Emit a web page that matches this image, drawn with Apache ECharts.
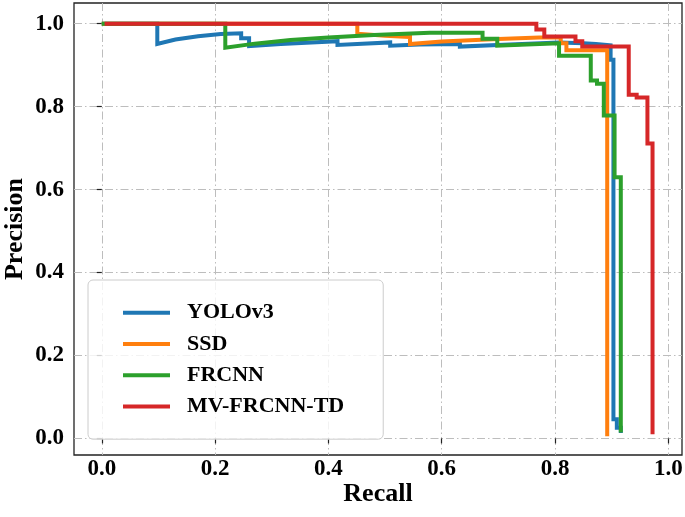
<!DOCTYPE html>
<html>
<head>
<meta charset="utf-8">
<script src="https://cdn.jsdelivr.net/npm/echarts@6/dist/echarts.min.js"></script>
<style>html,body{margin:0;padding:0;background:#fff}#c{width:685px;height:517px}</style>
</head>
<body>
<div id="c"></div>
<script>
const seriesNames = ['YOLOv3', 'SSD', 'FRCNN', 'MV-FRCNN-TD'];
const tickValues = [0, 0.2, 0.4, 0.6, 0.8, 1.0];
const yolo = [[0,1.0],[0.098,1.0],[0.098,0.951],[0.13,0.962],[0.17,0.970],[0.21,0.975],[0.246,0.977],[0.246,0.965],[0.26,0.965],[0.26,0.946],[0.316,0.951],[0.37,0.955],[0.416,0.958],[0.416,0.949],[0.46,0.952],[0.509,0.955],[0.509,0.947],[0.56,0.950],[0.632,0.951],[0.632,0.945],[0.72,0.950],[0.807,0.955],[0.85,0.953],[0.872,0.951],[0.898,0.948],[0.898,0.913],[0.903,0.913],[0.903,0.046],[0.909,0.046],[0.909,0.026],[0.916,0.026],[0.916,0.013]];
const ssd = [[0,1.0],[0.451,1.0],[0.451,0.976],[0.50,0.971],[0.544,0.968],[0.544,0.951],[0.60,0.957],[0.70,0.963],[0.772,0.967],[0.81,0.967],[0.81,0.953],[0.82,0.953],[0.82,0.936],[0.892,0.936],[0.892,0.005]];
const frcnn = [[0,1.0],[0.218,1.0],[0.218,0.942],[0.27,0.952],[0.333,0.961],[0.40,0.967],[0.48,0.973],[0.579,0.978],[0.672,0.978],[0.672,0.964],[0.698,0.964],[0.698,0.947],[0.75,0.950],[0.807,0.953],[0.807,0.923],[0.863,0.923],[0.863,0.863],[0.874,0.863],[0.874,0.855],[0.886,0.855],[0.886,0.779],[0.905,0.779],[0.905,0.630],[0.916,0.630],[0.916,0.014]];
const mvfrcnn = [[0.005,1.0],[0.767,1.0],[0.767,0.986],[0.781,0.986],[0.781,0.969],[0.836,0.969],[0.836,0.958],[0.848,0.958],[0.848,0.945],[0.93,0.945],[0.93,0.829],[0.944,0.829],[0.944,0.822],[0.963,0.822],[0.963,0.711],[0.972,0.711],[0.972,0.01]];
const seriesData = [yolo, ssd, frcnn, mvfrcnn];
const colors = ['#1f77b4', '#ff7f0e', '#2ca02c', '#d62728'];

const font = 'Liberation Serif';
const gridLine = { show: true, customValues: tickValues, lineStyle: { color: '#bdbdbd', width: 1, type: [8, 3, 1.5, 3] } };

const chart = echarts.init(document.getElementById('c'), null, { renderer: 'canvas' });
chart.setOption({
  animation: false,
  grid: { left: 74, right: 3, top: 3, bottom: 62, containLabel: false, outerBoundsMode: 'none', show: true, borderColor: '#222', borderWidth: 1.3, backgroundColor: 'transparent' },
  xAxis: {
    type: 'value', min: -0.049, max: 1.024,
    name: 'Recall', nameLocation: 'middle', nameGap: 26, nameMoveOverlap: false,
    nameTextStyle: { fontFamily: font, fontWeight: 'bold', fontSize: 26, color: '#000' },
    axisLine: { show: false },
    axisTick: { show: true, customValues: tickValues, length: 5, lineStyle: { color: '#222', width: 1.2 } },
    axisLabel: { customValues: tickValues, margin: 3, fontFamily: font, fontWeight: 'bold', fontSize: 23, color: '#000', formatter: v => v.toFixed(1) },
    splitLine: gridLine
  },
  yAxis: {
    type: 'value', min: -0.04, max: 1.05,
    name: 'Precision', nameLocation: 'middle', nameGap: 46, nameMoveOverlap: false,
    nameTextStyle: { fontFamily: font, fontWeight: 'bold', fontSize: 26, color: '#000' },
    axisLine: { show: false },
    axisTick: { show: true, customValues: tickValues, length: 5, lineStyle: { color: '#222', width: 1.2 } },
    axisLabel: { customValues: tickValues, margin: 10, fontFamily: font, fontWeight: 'bold', fontSize: 23, color: '#000', formatter: v => v.toFixed(1) },
    splitLine: gridLine
  },
  legend: {
    left: 88, top: 280, orient: 'vertical',
    icon: 'rect', itemWidth: 47, itemHeight: 4, itemGap: 0,
    padding: [17, 39, 17, 35],
    backgroundColor: 'rgba(255,255,255,0.8)', borderColor: '#cccccc', borderWidth: 1, borderRadius: 5,
    textStyle: { fontFamily: font, fontWeight: 'bold', fontSize: 22, color: '#000', lineHeight: 31.3, padding: [0, 0, 0, 12] },
    data: seriesNames
  },
  series: seriesData.map((d, i) => ({
    name: seriesNames[i], type: 'line', data: d, showSymbol: false, symbol: 'none',
    color: colors[i], lineStyle: { width: 4, color: colors[i], cap: 'butt', join: 'miter' }, z: 2 + i
  }))
});
</script>
</body>
</html>
